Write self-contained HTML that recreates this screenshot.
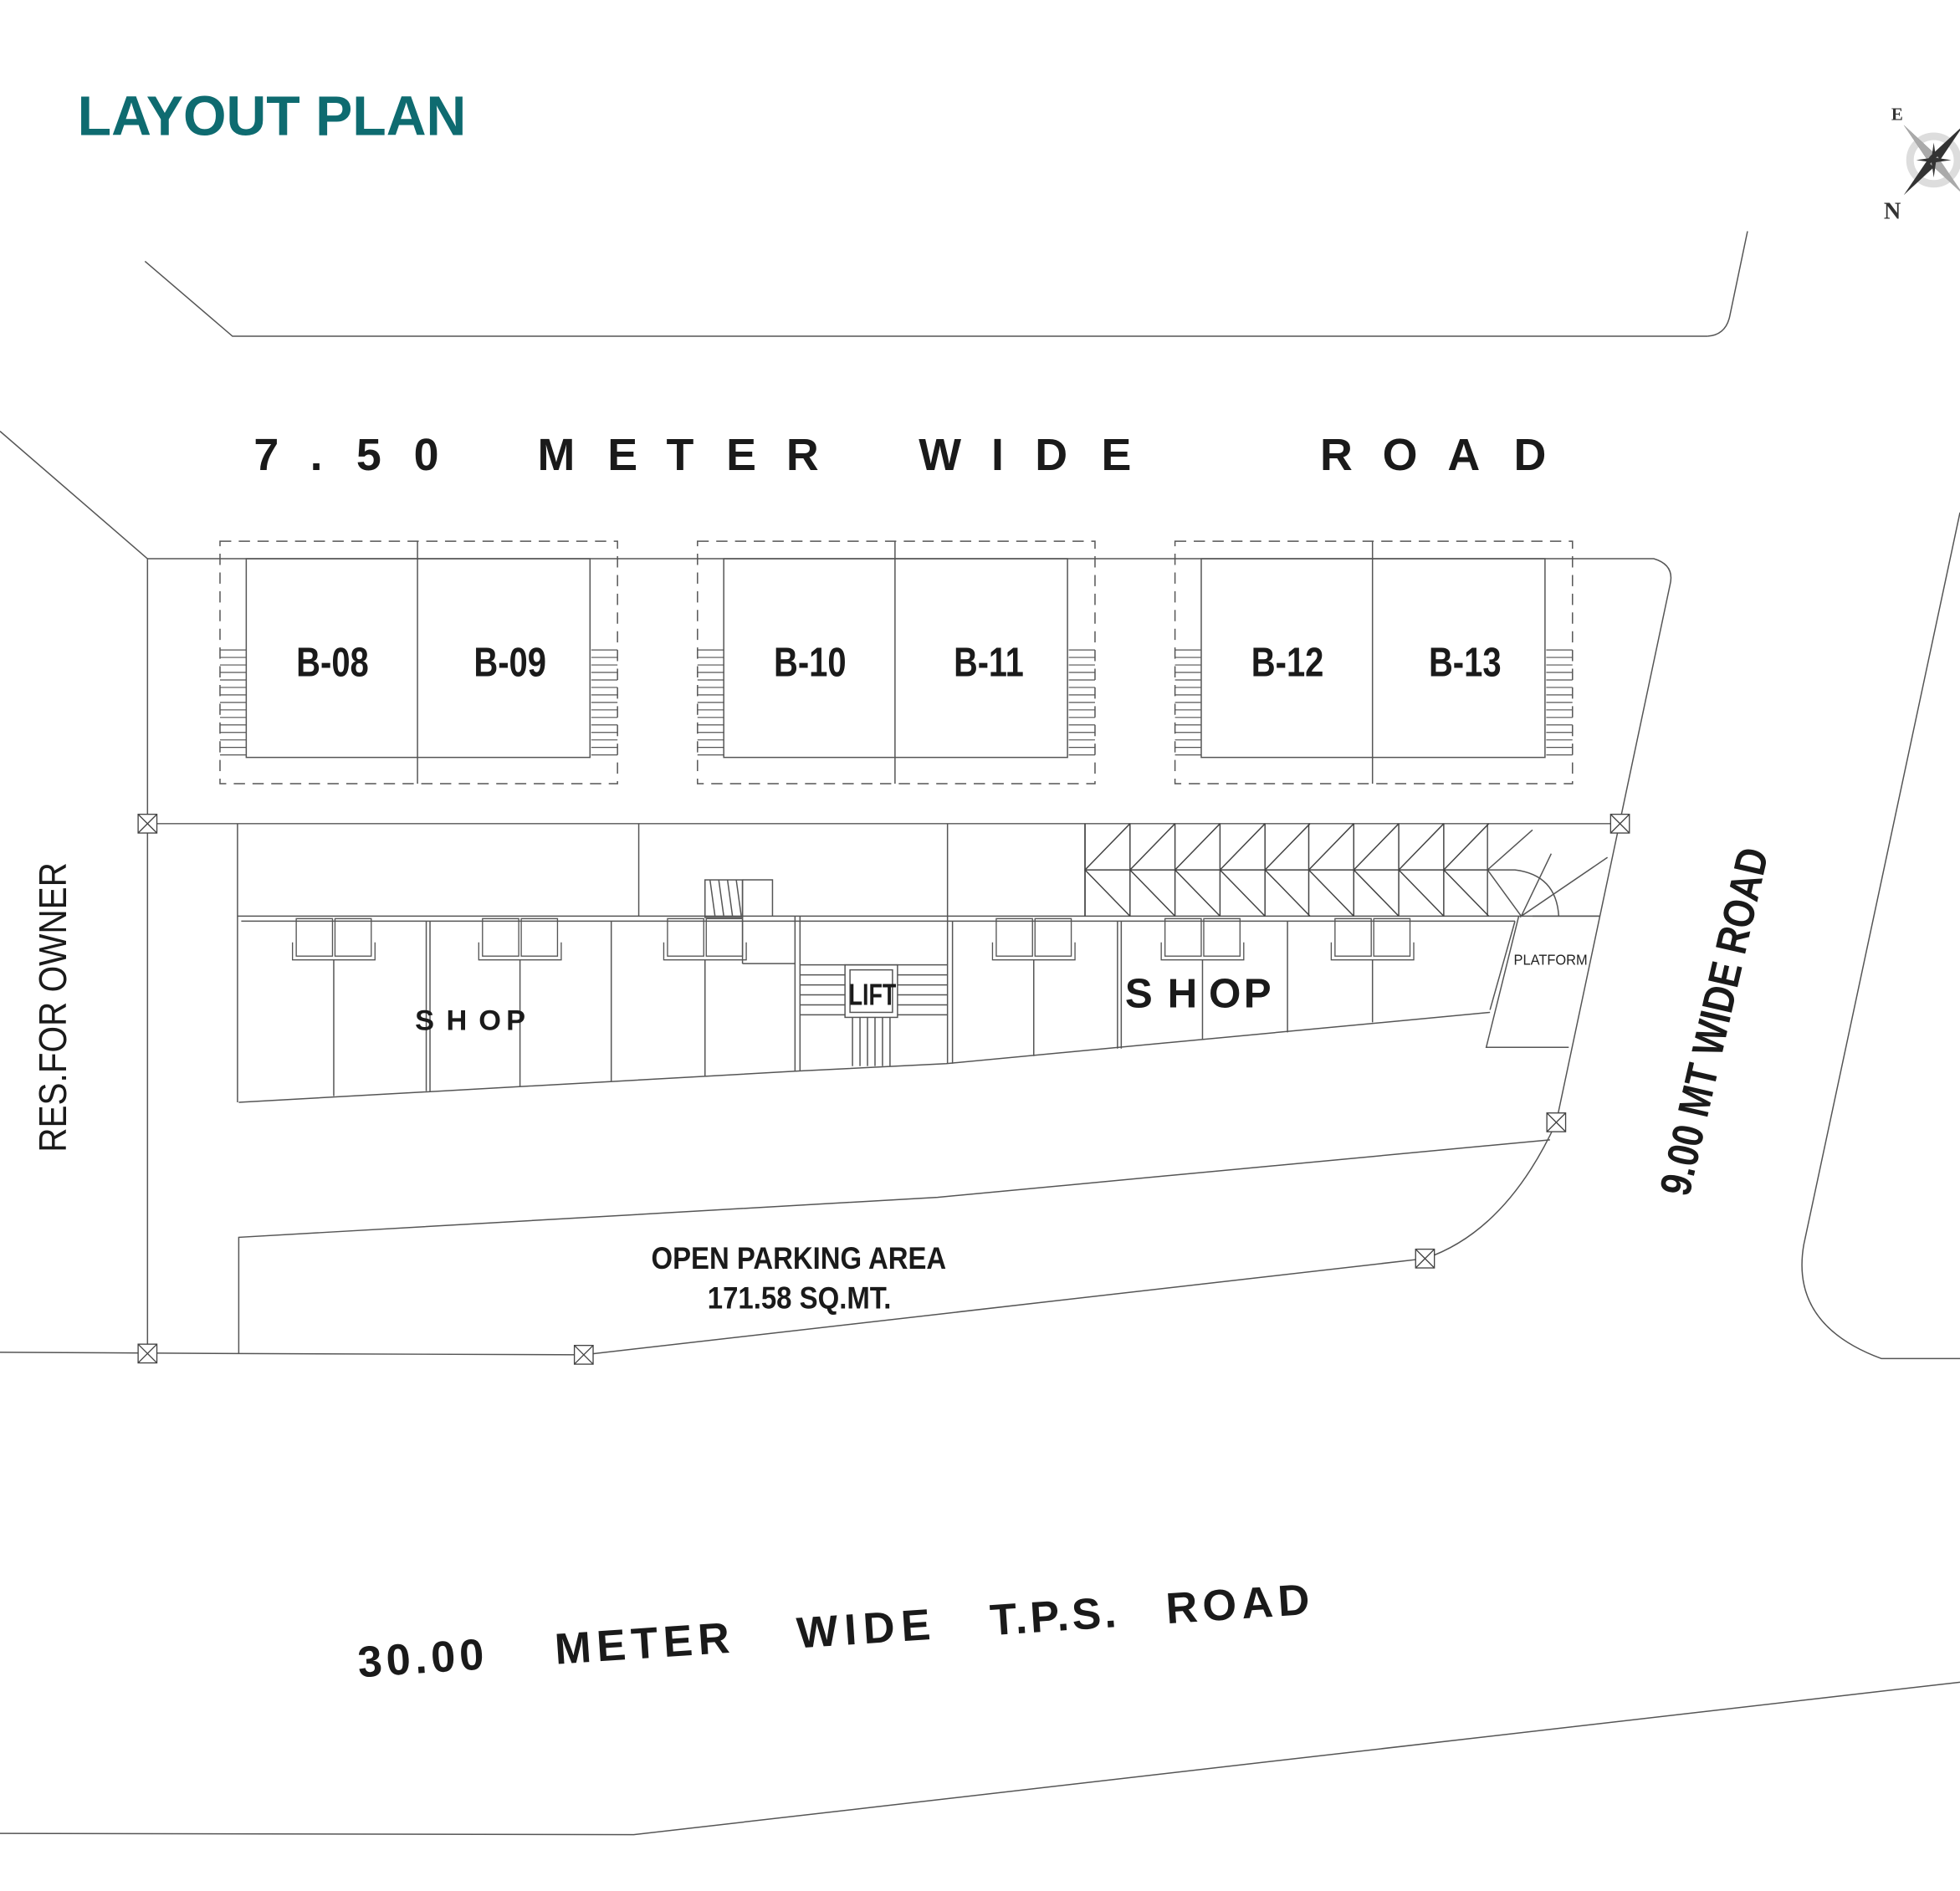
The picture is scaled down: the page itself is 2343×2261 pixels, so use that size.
<!DOCTYPE html>
<html><head><meta charset="utf-8"><style>
html,body{margin:0;padding:0;background:#fff;}
svg{display:block;}
text{font-family:"Liberation Sans",sans-serif;}
</style></head><body>
<svg width="2343" height="2261" viewBox="0 0 1568 1513" xmlns="http://www.w3.org/2000/svg">
<defs>
<g id="stl" stroke="#555" stroke-width="0.8">
<line x1="0" y1="520" x2="21" y2="520"/><line x1="0" y1="526" x2="21" y2="526"/><line x1="0" y1="532" x2="21" y2="532"/><line x1="0" y1="538" x2="21" y2="538"/><line x1="0" y1="544" x2="21" y2="544"/><line x1="0" y1="550" x2="21" y2="550"/><line x1="0" y1="556" x2="21" y2="556"/><line x1="0" y1="562" x2="21" y2="562"/><line x1="0" y1="568" x2="21" y2="568"/><line x1="0" y1="574" x2="21" y2="574"/><line x1="0" y1="580" x2="21" y2="580"/><line x1="0" y1="586" x2="21" y2="586"/><line x1="0" y1="592" x2="21" y2="592"/><line x1="0" y1="598" x2="21" y2="598"/><line x1="0" y1="604" x2="21" y2="604"/>
</g>
<g id="blk" fill="none" stroke="#555">
<rect x="0" y="0" width="318" height="194" stroke-dasharray="9,6" stroke-width="1"/>
<rect x="21" y="14" width="275" height="159" stroke-width="1"/>
<line x1="158" y1="0" x2="158" y2="194" stroke-width="1"/>
<use href="#stl" transform="translate(0,-433)"/>
<use href="#stl" transform="translate(297,-433)"/>
</g>
<g id="chev" fill="none" stroke="#444" stroke-width="1">
<line x1="0" y1="659" x2="0" y2="733"/>
<line x1="0" y1="696" x2="36" y2="696"/>
<polyline points="36,659 0,696 36,733"/>
</g>
<g id="mk" fill="#fff" stroke="#444" stroke-width="0.9">
<rect x="-7.5" y="-7.5" width="15" height="15"/>
<line x1="-7.5" y1="-7.5" x2="7.5" y2="7.5"/><line x1="7.5" y1="-7.5" x2="-7.5" y2="7.5"/>
</g>
<g id="sb" fill="none" stroke="#555" stroke-width="0.9">
<rect x="-30" y="735" width="29" height="30"/><rect x="1" y="735" width="29" height="30"/>
<polyline points="-33,754 -33,768 33,768 33,754"/>
</g>
</defs>

<text x="62" y="108" font-weight="bold" font-size="45" fill="#0e6b70" textLength="311" lengthAdjust="spacingAndGlyphs">LAYOUT PLAN</text>

<g transform="translate(1547,128)">
<circle cx="0" cy="0" r="19" fill="none" stroke="#ddd" stroke-width="6"/>
<polygon points="-24,-28 3,-3 -3,3" fill="#333"/>
<polygon points="-24,-28 -3,3 3,-3" fill="#aaa"/>
<polygon points="-24,28 -3,-3 3,3" fill="#333"/>
<polygon points="24,-28 3,3 -3,-3" fill="#333"/>
<polygon points="24,28 3,-3 -3,3" fill="#aaa"/>
<polygon points="0,-14 2,0 0,14 -2,0" fill="#333"/>
<polygon points="-14,0 0,-2 14,0 0,2" fill="#333"/>
</g>
<text x="1513" y="96" font-weight="bold" font-size="14" fill="#333" style="font-family:'Liberation Serif',serif">E</text>
<text x="1507" y="175" font-weight="bold" font-size="19" fill="#333" style="font-family:'Liberation Serif',serif">N</text>

<g fill="none" stroke="#555" stroke-width="1">
<polyline points="116,209 186,269 1366,269"/>
<path d="M1366,269 Q1381,268 1384,252 L1398,185"/>
<line x1="0" y1="345" x2="118" y2="447"/>
<path d="M118,447 L1323,447 Q1340,452 1336,468 L1245,898 Q1205,985 1140,1007 L467,1084"/>
<line x1="118" y1="447" x2="118" y2="1083"/>
<polyline points="0,1082 190,1083 467,1084"/>
<line x1="118" y1="659" x2="1296" y2="659"/>
<path d="M1568,410 L1443,996 Q1432,1060 1505,1087 L1568,1087"/>
<polyline points="0,1467 507,1468 1568,1346"/>
<polyline points="191,1083 191,990 750,958 1240,912"/>
</g>

<use href="#blk" transform="translate(176,433)"/>
<use href="#blk" transform="translate(558,433)"/>
<use href="#blk" transform="translate(940,433)"/>

<g fill="none" stroke="#555" stroke-width="1">
<line x1="190" y1="659" x2="190" y2="882"/>
<line x1="511" y1="659" x2="511" y2="733"/>
<line x1="758" y1="659" x2="758" y2="733"/>
<line x1="868" y1="659" x2="868" y2="733"/>
<line x1="190" y1="733" x2="1280" y2="733"/>
<line x1="193" y1="737" x2="1212" y2="737"/>
<polyline points="191,882 638,857 757,851 1192,810"/>
<line x1="267" y1="768" x2="267" y2="877"/>
<line x1="341" y1="737" x2="341" y2="873"/>
<line x1="344" y1="737" x2="344" y2="873"/>
<line x1="416" y1="768" x2="416" y2="869"/>
<line x1="489" y1="737" x2="489" y2="865"/>
<line x1="564" y1="768" x2="564" y2="861"/>
<line x1="636" y1="733" x2="636" y2="857"/>
<line x1="640" y1="733" x2="640" y2="857"/>
<line x1="758" y1="733" x2="758" y2="851"/>
<line x1="762" y1="737" x2="762" y2="851"/>
<line x1="827" y1="768" x2="827" y2="845"/>
<line x1="894" y1="737" x2="894" y2="839"/>
<line x1="897" y1="737" x2="897" y2="839"/>
<line x1="962" y1="768" x2="962" y2="832"/>
<line x1="1030" y1="737" x2="1030" y2="826"/>
<line x1="1098" y1="768" x2="1098" y2="818"/>
<rect x="564" y="704" width="30" height="30"/>
<line x1="568" y1="704" x2="572" y2="733"/><line x1="575" y1="704" x2="579" y2="733"/><line x1="582" y1="704" x2="586" y2="733"/><line x1="589" y1="704" x2="593" y2="733"/>
<polyline points="594,704 618,704 618,733"/>
<line x1="594" y1="704" x2="594" y2="771"/>
<polyline points="594,771 636,771"/>
<rect x="676" y="772" width="42" height="42"/>
<rect x="680" y="776" width="34" height="34"/>
<line x1="640" y1="780" x2="676" y2="780"/><line x1="640" y1="788" x2="676" y2="788"/><line x1="640" y1="796" x2="676" y2="796"/><line x1="640" y1="804" x2="676" y2="804"/><line x1="640" y1="812" x2="676" y2="812"/>
<line x1="718" y1="780" x2="758" y2="780"/><line x1="718" y1="788" x2="758" y2="788"/><line x1="718" y1="796" x2="758" y2="796"/><line x1="718" y1="804" x2="758" y2="804"/><line x1="718" y1="812" x2="758" y2="812"/>
<line x1="640" y1="772" x2="758" y2="772"/>
<line x1="682" y1="814" x2="682" y2="853"/><line x1="688" y1="814" x2="688" y2="853"/><line x1="694" y1="814" x2="694" y2="853"/><line x1="700" y1="814" x2="700" y2="853"/><line x1="706" y1="814" x2="706" y2="853"/><line x1="712" y1="814" x2="712" y2="853"/>
<polyline points="1212,737 1192,808"/>
<polyline points="1215,733 1189,838 1255,838"/>
<line x1="1226" y1="733" x2="1280" y2="733"/>
<polyline points="1241,683 1217,733 1286,686"/>
<path d="M1190,696 L1212,696 Q1245,700 1247,733"/>
<line x1="1190" y1="659" x2="1190" y2="733"/>
<polyline points="1226,664 1190,696 1217,733"/>
</g>
<use href="#chev" transform="translate(868,0)"/>
<use href="#chev" transform="translate(904,0)"/>
<use href="#chev" transform="translate(940,0)"/>
<use href="#chev" transform="translate(976,0)"/>
<use href="#chev" transform="translate(1012,0)"/>
<use href="#chev" transform="translate(1047,0)"/>
<use href="#chev" transform="translate(1083,0)"/>
<use href="#chev" transform="translate(1119,0)"/>
<use href="#chev" transform="translate(1155,0)"/>

<use href="#sb" transform="translate(267,0)"/>
<use href="#sb" transform="translate(416,0)"/>
<use href="#sb" transform="translate(564,0)"/>
<use href="#sb" transform="translate(827,0)"/>
<use href="#sb" transform="translate(962,0)"/>
<use href="#sb" transform="translate(1098,0)"/>

<use href="#mk" transform="translate(118,659)"/>
<use href="#mk" transform="translate(1296,659)"/>
<use href="#mk" transform="translate(118,1083)"/>
<use href="#mk" transform="translate(467,1084)"/>
<use href="#mk" transform="translate(1140,1007)"/>
<use href="#mk" transform="translate(1245,898)"/>

<g font-weight="bold" fill="#1a1a1a">
<text y="376" font-size="36" x="203 248 285 331">7.50</text>
<text y="376" font-size="36" x="430 486 533 581 629">METER</text>
<text y="376" font-size="36" x="735 793 828 881">WIDE</text>
<text y="376" font-size="36" x="1056 1106 1158 1211">ROAD</text>

<text x="237" y="541" font-size="33" textLength="58" lengthAdjust="spacingAndGlyphs">B-08</text>
<text x="379" y="541" font-size="33" textLength="58" lengthAdjust="spacingAndGlyphs">B-09</text>
<text x="619" y="541" font-size="33" textLength="58" lengthAdjust="spacingAndGlyphs">B-10</text>
<text x="763" y="541" font-size="33" textLength="56" lengthAdjust="spacingAndGlyphs">B-11</text>
<text x="1001" y="541" font-size="33" textLength="58" lengthAdjust="spacingAndGlyphs">B-12</text>
<text x="1143" y="541" font-size="33" textLength="58" lengthAdjust="spacingAndGlyphs">B-13</text>

<text y="824" font-size="23" x="332 357 383 405">SHOP</text>
<text y="806" font-size="33" x="900 934 967 995">SHOP</text>
<text x="679" y="804" font-size="24" textLength="38" lengthAdjust="spacingAndGlyphs">LIFT</text>

<text x="521" y="1015" font-size="25" textLength="236" lengthAdjust="spacingAndGlyphs">OPEN PARKING AREA</text>
<text x="566" y="1047" font-size="25" textLength="147" lengthAdjust="spacingAndGlyphs">171.58 SQ.MT.</text>

<text transform="translate(1383,820) rotate(-77)" font-size="35" x="-142" textLength="284" lengthAdjust="spacingAndGlyphs">9.00 MT WIDE ROAD</text>

<g transform="translate(287,1342) rotate(-3.8)" font-size="35">
<text x="0" y="0" textLength="101" lengthAdjust="spacing">30.00</text>
<text x="158" y="0" textLength="140" lengthAdjust="spacing">METER</text>
<text x="352" y="0" textLength="107" lengthAdjust="spacing">WIDE</text>
<text x="507" y="0" textLength="101" lengthAdjust="spacing">T.P.S.</text>
<text x="648" y="0" textLength="115" lengthAdjust="spacing">ROAD</text>
</g>
</g>
<text transform="translate(53,806) rotate(-90)" x="-116" font-size="31" fill="#1a1a1a" textLength="232" lengthAdjust="spacingAndGlyphs">RES.FOR OWNER</text>
<text x="1211" y="772" font-size="12" fill="#222" textLength="59" lengthAdjust="spacingAndGlyphs">PLATFORM</text>
</svg>
</body></html>
